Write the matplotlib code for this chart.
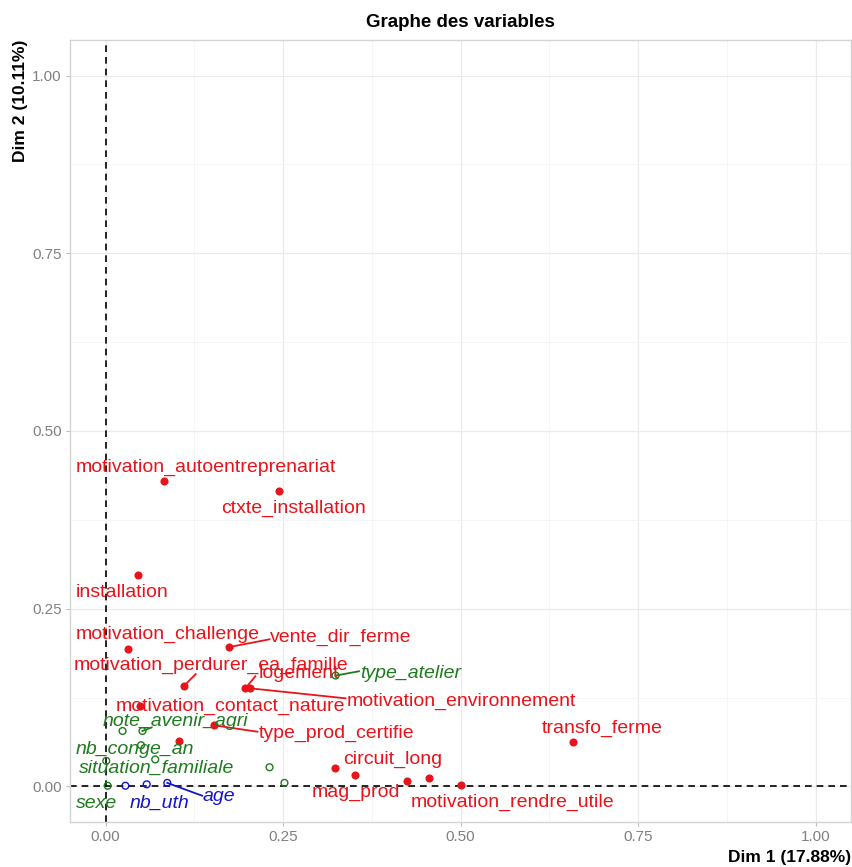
import numpy as np
import matplotlib
matplotlib.use("Agg")
import matplotlib.pyplot as plt

plt.rcParams['font.family'] = ['Liberation Sans', 'DejaVu Sans']

# active variables (red, filled)
red_names = ["motivation_autoentreprenariat", "ctxte_installation", "installation",
             "motivation_challenge", "vente_dir_ferme", "motivation_perdurer_ea_famille",
             "logement", "motivation_environnement", "motivation_contact_nature",
             "type_prod_certifie", None, "circuit_long", "mag_prod", None, None,
             "motivation_rendre_utile", "transfo_ferme"]
red_x = [0.083, 0.245, 0.046, 0.032, 0.174, 0.110, 0.197, 0.204, 0.049,
         0.153, 0.104, 0.323, 0.352, 0.425, 0.455, 0.501, 0.658]
red_y = [0.430, 0.415, 0.297, 0.193, 0.196, 0.141, 0.138, 0.138, 0.113,
         0.086, 0.064, 0.026, 0.016, 0.008, 0.012, 0.002, 0.062]

# supplementary qualitative (green, open)
green_names = ["type_atelier", None, "note_avenir_agri", None, "nb_conge_an",
               "situation_familiale", "sexe", None, None]
green_x = [0.324, 0.024, 0.052, 0.050, 0.070, 0.001, 0.003, 0.231, 0.252]
green_y = [0.156, 0.078, 0.078, 0.058, 0.038, 0.036, 0.001, 0.027, 0.005]

# supplementary quantitative (blue, open)
blue_names = ["nb_uth", None, "age"]
blue_x = [0.028, 0.058, 0.087]
blue_y = [0.001, 0.003, 0.005]

# where the repelled labels sit
label_pos = {
    "motivation_autoentreprenariat": (0.141, 0.449),
    "ctxte_installation": (0.265, 0.391),
    "installation": (0.024, 0.273),
    "motivation_challenge": (0.087, 0.214),
    "vente_dir_ferme": (0.331, 0.210),
    "motivation_perdurer_ea_famille": (0.149, 0.170),
    "logement": (0.273, 0.159),
    "motivation_environnement": (0.501, 0.120),
    "motivation_contact_nature": (0.176, 0.113),
    "type_prod_certifie": (0.325, 0.075),
    "circuit_long": (0.404, 0.038),
    "mag_prod": (0.353, -0.008),
    "motivation_rendre_utile": (0.573, -0.023),
    "transfo_ferme": (0.700, 0.082),
    "type_atelier": (0.429, 0.159),
    "note_avenir_agri": (0.099, 0.091),
    "nb_conge_an": (0.042, 0.052),
    "situation_familiale": (0.072, 0.025),
    "sexe": (-0.013, -0.024),
    "nb_uth": (0.076, -0.024),
    "age": (0.159, -0.014),
}
# label end of the connecting segments
seg_end = {
    "vente_dir_ferme": (0.231, 0.207),
    "motivation_perdurer_ea_famille": (0.127, 0.158),
    "logement": (0.211, 0.155),
    "motivation_environnement": (0.338, 0.124),
    "type_prod_certifie": (0.214, 0.077),
    "type_atelier": (0.357, 0.162),
    "age": (0.136, -0.013),
    "note_avenir_agri": (0.065, 0.083),
}

RED = "#E8141A"
GREEN = "#1E7B1E"
BLUE = "#1515C8"

fig = plt.figure(figsize=(8.53, 8.67), dpi=100)
ax = fig.add_axes([0.0821, 0.0519, 0.9156, 0.902])

ax.set_xlim(-0.05, 1.05)
ax.set_ylim(-0.05, 1.05)
ticks = [0, 0.25, 0.5, 0.75, 1.0]
ax.set_xticks(ticks)
ax.set_yticks(ticks)
ax.set_xticklabels(["0.00", "0.25", "0.50", "0.75", "1.00"])
ax.set_yticklabels(["0.00", "0.25", "0.50", "0.75", "1.00"])
ax.set_xticks([0.125, 0.375, 0.625, 0.875], minor=True)
ax.set_yticks([0.125, 0.375, 0.625, 0.875], minor=True)
ax.grid(which='major', color='#EBEBEB', lw=0.9)
ax.grid(which='minor', color='#F4F4F4', lw=0.6)
ax.set_axisbelow(True)
ax.tick_params(which='minor', length=0)
ax.tick_params(which='major', length=3, width=0.8, color='#BDBDBD',
               labelcolor='#808080', labelsize=11, pad=3)
for s in ax.spines.values():
    s.set_color('#D4D4D4')
    s.set_linewidth(1.0)

ax.axhline(0, color='black', ls=(0, (4, 3)), lw=1.2, zorder=1)
ax.axvline(0, color='black', ls=(0, (4, 3)), lw=1.2, zorder=1)


def draw_group(names, xs, ys, color, filled, italic):
    for n, x, y in zip(names, xs, ys):
        if n is not None and n in seg_end:
            ex, ey = seg_end[n]
            ax.plot([x, ex], [y, ey], color=color, lw=1.3, zorder=2)
    if filled:
        ax.scatter(xs, ys, s=34, color=color, zorder=3, linewidths=0)
    else:
        ax.scatter(xs, ys, s=24, facecolors='none', edgecolors=color,
                   linewidths=1.0, zorder=3)
    for n in names:
        if n is None:
            continue
        lx, ly = label_pos[n]
        ax.text(lx, ly, n, color=color, fontsize=14, ha='center', va='center',
                style='italic' if italic else 'normal', zorder=4)


draw_group(red_names, red_x, red_y, RED, True, False)
draw_group(green_names, green_x, green_y, GREEN, False, True)
draw_group(blue_names, blue_x, blue_y, BLUE, False, True)

ax.set_title("Graphe des variables", fontweight='bold', fontsize=13.5, pad=9)
ax.set_xlabel("Dim 1 (17.88%)", fontweight='bold', fontsize=12.5, loc='right',
              labelpad=4)
ax.set_ylabel("Dim 2 (10.11%)", fontweight='bold', fontsize=12.5, loc='top',
              labelpad=3)

fig.savefig("out.png", dpi=100)
